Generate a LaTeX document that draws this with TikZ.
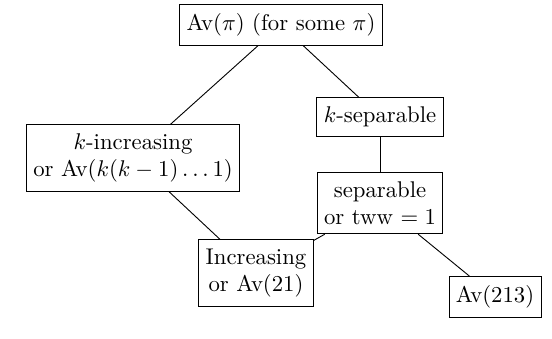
\documentclass[tikz,border=0pt]{standalone}
\usepackage{amsmath}
\usetikzlibrary{positioning}

\begin{document}
\begin{tikzpicture}[
  x=0.44pt, y=-0.44pt,
  box/.style={draw, align=center, inner xsep=3pt, inner ysep=4pt},
]
\useasboundingbox (0,0) rectangle (552,338);
\node[box] (avpi) at (281,25) {Av$(\pi)$ (for some $\pi$)};
\node[box] (kinc) at (133,158) {$k$-increasing\\or Av$(k(k-1)\ldots 1)$};
\node[box] (ksep) at (380,117) {$k$-separable};
\node[box] (sep) at (380,203) {separable\\or tww $=1$};
\node[box] (inc) at (256,273) {Increasing\\or Av$(21)$};
\node[box] (av213) at (495,297) {Av$(213)$};
\draw (avpi) -- (kinc);
\draw (avpi) -- (ksep);
\draw (ksep) -- (sep);
\draw (kinc) -- (inc);
\draw (sep) -- (inc);
\draw (sep) -- (av213);
\end{tikzpicture}
\end{document}
